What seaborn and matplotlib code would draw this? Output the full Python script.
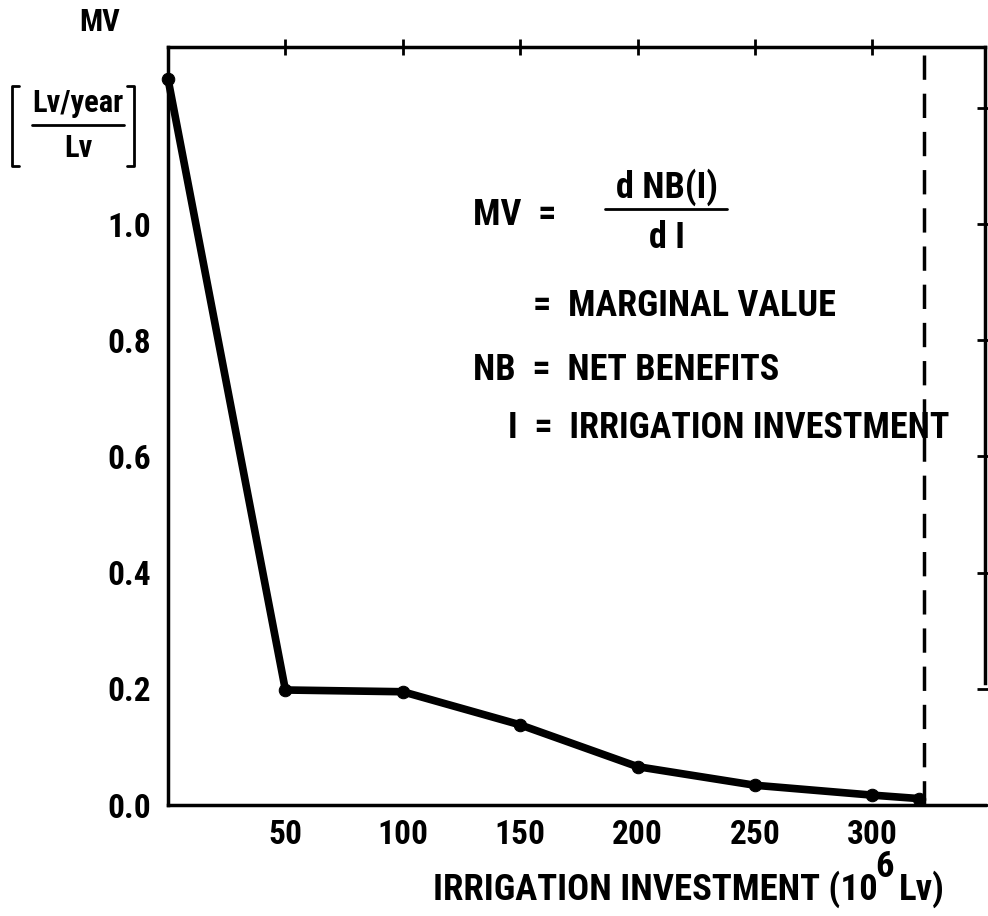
import matplotlib
matplotlib.use("Agg")
import matplotlib.pyplot as plt
import seaborn as sns
import pandas as pd
from matplotlib.lines import Line2D

# values
investment = [0, 50, 100, 150, 200, 250, 300, 320]
marginal_value = [1.25, 0.198, 0.195, 0.138, 0.066, 0.034, 0.017, 0.011]
x_ticks = [50, 100, 150, 200, 250, 300]
y_ticks = [0.0, 0.2, 0.4, 0.6, 0.8, 1.0, 1.2]
y_tick_labels = ["0.0", "0.2", "0.4", "0.6", "0.8", "1.0", ""]
optimum = 322

df = pd.DataFrame({"I": investment, "MV": marginal_value})

W, H = 988, 916
sns.set_theme(style="white")
plt.rcParams["font.family"] = ["Roboto Condensed", "Liberation Sans Narrow",
                               "Roboto", "DejaVu Sans"]
plt.rcParams["font.weight"] = "bold"

fig = plt.figure(figsize=(W / 100, H / 100), dpi=100)
ax = fig.add_axes([168 / W, 1 - 805 / H, (985 - 168) / W, (805 - 47) / H])

sns.lineplot(data=df, x="I", y="MV", ax=ax, color="black", linewidth=5.5,
             marker="o", markersize=9, markeredgecolor="black", clip_on=False)
ax.axvline(optimum, color="black", linewidth=2.5, dashes=(7, 4))

ax.set_xlim(0, 348)
ax.set_ylim(0, 1.305)
ax.set_xticks(x_ticks)
ax.set_xticklabels([str(t) for t in x_ticks])
ax.set_yticks(y_ticks)
ax.set_yticklabels(y_tick_labels)
ax.set_xlabel("")
ax.set_ylabel("")

for s in ax.spines.values():
    s.set_linewidth(2.5)
    s.set_color("black")
ax.spines["right"].set_bounds(0.21, 1.305)

ax.tick_params(axis="both", which="both", direction="inout", length=12, width=2,
               labelsize=24, colors="black", top=True, pad=4)
ax.tick_params(axis="y", right=True, pad=6)
for lab in ax.get_xticklabels() + ax.get_yticklabels():
    lab.set_fontweight("bold")


def fx(px):
    return px / W


def fy(py):
    return 1 - py / H


tkw = dict(fontsize=26, fontweight="bold", color="black")
skw = dict(fontsize=22, fontweight="bold", color="black")
lkw = dict(fontsize=26.5, fontweight="bold", color="black")

# y-axis label with bracketed unit
fig.text(fx(100), fy(22), "MV", ha="center", va="center", **skw)
fig.text(fx(78), fy(103), "Lv/year", ha="center", va="center", **skw)
fig.text(fx(78), fy(148), "Lv", ha="center", va="center", **skw)
fig.add_artist(Line2D([fx(32), fx(124)], [fy(125), fy(125)], color="black", lw=2))
fig.add_artist(Line2D([fx(19), fx(12), fx(12), fx(19)],
                      [fy(86), fy(86), fy(166), fy(166)], color="black", lw=2))
fig.add_artist(Line2D([fx(127), fx(134), fx(134), fx(127)],
                      [fy(86), fy(86), fy(166), fy(166)], color="black", lw=2))

# formula block
fig.text(fx(473), fy(215), "MV  =", ha="left", va="center", **tkw)
fig.text(fx(667), fy(187), "d NB(I)", ha="center", va="center", **tkw)
fig.add_artist(Line2D([fx(605), fx(727)], [fy(209), fy(209)], color="black", lw=2))
fig.text(fx(667), fy(238), "d I", ha="center", va="center", **tkw)
fig.text(fx(533), fy(306), "=  MARGINAL VALUE", ha="left", va="center", **tkw)
fig.text(fx(473), fy(370), "NB  =  NET BENEFITS", ha="left", va="center", **tkw)
fig.text(fx(508), fy(428), "I  =  IRRIGATION INVESTMENT", ha="left", va="center", **tkw)

# x-axis label, superscript set by hand
fig.text(fx(878), fy(889), "IRRIGATION INVESTMENT (10", ha="right", va="center", **lkw)
fig.text(fx(884), fy(867), "6", ha="center", va="center", **lkw)
fig.text(fx(899), fy(889), "Lv)", ha="left", va="center", **lkw)

fig.savefig("out.png", dpi=100)
